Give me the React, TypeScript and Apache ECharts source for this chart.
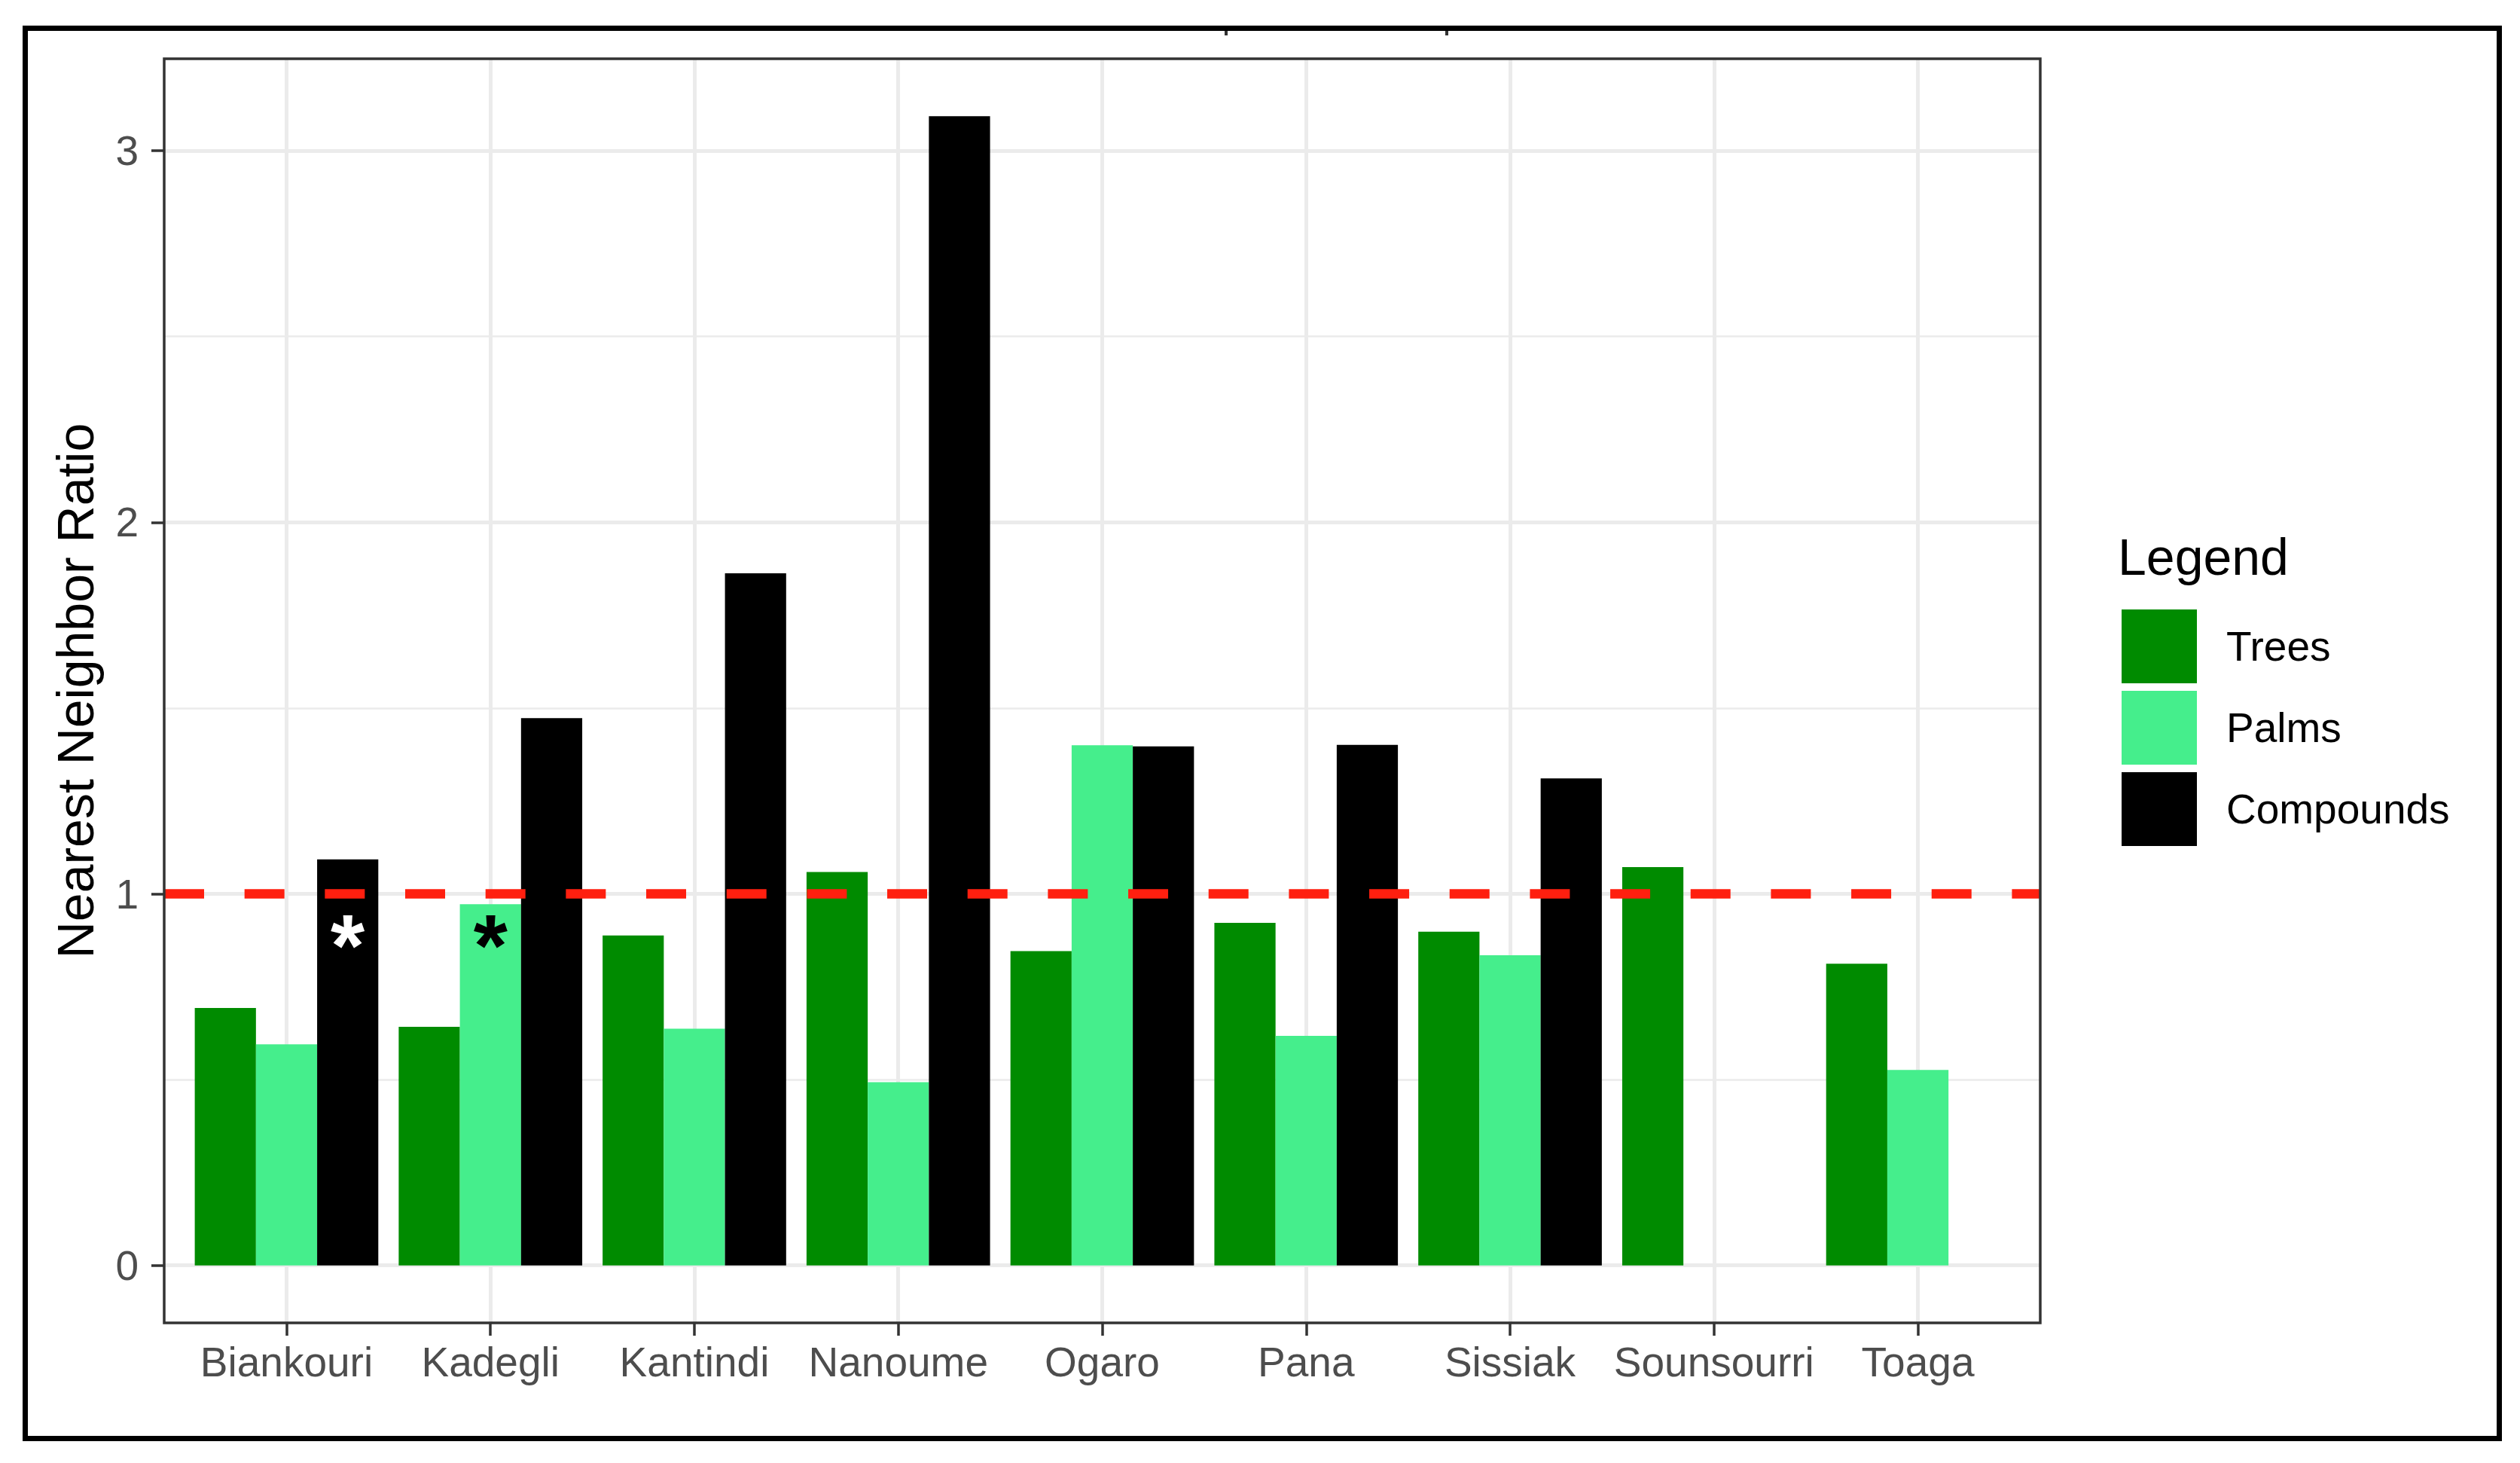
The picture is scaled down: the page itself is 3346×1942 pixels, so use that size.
import React, { useEffect, useRef } from 'react';
import * as echarts from 'echarts';

// ---- data ----
const categories = ['Biankouri', 'Kadegli', 'Kantindi', 'Nanoume', 'Ogaro', 'Pana', 'Sissiak', 'Sounsourri', 'Toaga'];
const seriesNames = ['Trees', 'Palms', 'Compounds'];
const trees = [0.693, 0.642, 0.888, 1.059, 0.846, 0.922, 0.898, 1.072, 0.812];
const palms = [0.595, 0.972, 0.637, 0.493, 1.4, 0.618, 0.835, null, 0.526];
const compounds = [1.093, 1.473, 1.863, 3.093, 1.397, 1.401, 1.311, null, null];
const yTickMax = 3;
const referenceValue = 1;
const starCategories = ['Biankouri', 'Kadegli'];
const starSeries = ['Compounds', 'Palms'];
const starValues = [0.9, 0.9];
const starColors = ['#FFFFFF', '#000000'];
const seriesColors = ['#008B00', '#45EE8C', '#000000'];
const yTitle = 'Nearest Neighbor Ratio';
const legendTitle = 'Legend';

const FONT = '"Liberation Sans", Arial, sans-serif';

export default function App() {
  const ref = useRef<HTMLDivElement>(null);

  useEffect(() => {
    if (!ref.current) return;
    const chart = echarts.init(ref.current, undefined, { renderer: 'svg' });

    // panel layout
    const L = 218, T = 78, R = 2709, B = 1756;
    const PW = R - L, PH = B - T;
    const nCat = categories.length;
    const unitX = PW / (nCat - 1 + 1.2);

    const allVals = [...trees, ...palms, ...compounds].filter((v) => v != null) as number[];
    const dMax = Math.max(...allVals);
    const yMin = -0.05 * dMax;
    const yMax = dMax * 1.05;
    const unitY = PH / (yMax - yMin);

    const seriesData = [trees, palms, compounds];

    const option: any = {
      animation: false,
      backgroundColor: '#FFFFFF',
      textStyle: { fontFamily: FONT },
      grid: [
        { left: L, top: T, width: PW, height: PH },
        { left: L, top: T + (yMax - yTickMax) * unitY, width: PW, height: yTickMax * unitY },
        { left: L + 0.6 * unitX, top: T, width: (nCat - 1) * unitX, height: PH },
        { left: L + 0.1 * unitX, top: T, width: nCat * unitX, height: PH },
      ],
      xAxis: [
        { gridIndex: 0, type: 'value', min: 0, max: 1, show: false },
        { gridIndex: 1, type: 'value', min: 0, max: 1, show: false },
        {
          gridIndex: 2, type: 'value', min: 0, max: nCat - 1, interval: 1,
          axisLine: { show: false, onZero: false }, axisTick: { show: false }, axisLabel: { show: false },
          splitLine: { show: true, lineStyle: { color: '#EBEBEB', width: 5 } },
        },
        {
          gridIndex: 3, type: 'category', data: categories, position: 'bottom',
          axisLine: { show: false, onZero: false },
          axisTick: { show: true, alignWithLabel: true, length: 17, lineStyle: { color: '#333333', width: 3.5 } },
          axisLabel: { interval: 0, fontSize: 55, color: '#4D4D4D', margin: 24, fontFamily: FONT },
          splitLine: { show: false },
        },
      ],
      yAxis: [
        { gridIndex: 0, type: 'value', min: yMin, max: yMax, show: false },
        {
          gridIndex: 1, type: 'value', min: 0, max: yTickMax, interval: 1,
          axisLine: { show: false, onZero: false },
          axisTick: { show: true, length: 17, lineStyle: { color: '#333333', width: 3.5 } },
          axisLabel: { fontSize: 55, color: '#4D4D4D', margin: 34, fontFamily: FONT },
          splitLine: { show: true, lineStyle: { color: '#EBEBEB', width: 5 } },
          minorTick: { show: false, splitNumber: 2 },
          minorSplitLine: { show: true, lineStyle: { color: '#EBEBEB', width: 2.7 } },
        },
        { gridIndex: 2, type: 'value', show: false },
        { gridIndex: 3, type: 'value', min: yMin, max: yMax, show: false },
      ],
      legend: {
        data: seriesNames,
        orient: 'vertical',
        left: 2817,
        top: 809,
        itemWidth: 100,
        itemHeight: 98,
        itemGap: 10,
        padding: 0,
        icon: 'rect',
        selectedMode: false,
        textStyle: { fontSize: 55, color: '#000000', fontFamily: FONT, padding: [0, 0, 0, 34] },
      },
      series: [
        ...seriesNames.map((name, i) => ({
          type: 'bar',
          name,
          xAxisIndex: 3,
          yAxisIndex: 3,
          data: seriesData[i],
          barGap: '0%',
          barCategoryGap: '10%',
          itemStyle: { color: seriesColors[i] },
          z: 2,
          silent: true,
        })),
        {
          type: 'line',
          name: 'reference',
          xAxisIndex: 0,
          yAxisIndex: 0,
          data: [[0, referenceValue], [1, referenceValue]],
          symbol: 'none',
          lineStyle: { color: '#FF1F0F', width: 12.5, type: [53, 53.67], cap: 'butt' },
          z: 5,
          silent: true,
        },
        {
          type: 'custom',
          name: 'stars',
          xAxisIndex: 3,
          yAxisIndex: 3,
          z: 6,
          silent: true,
          data: starCategories.map((c, i) => [categories.indexOf(c), starValues[i], seriesNames.indexOf(starSeries[i])]),
          renderItem: (params: any, api: any) => {
            const p = api.coord([api.value(0), api.value(1)]);
            const band = api.size([1, 0])[0];
            const slotW = (band * 0.9) / seriesNames.length;
            const fs = 116;
            return {
              type: 'text',
              x: p[0] + (api.value(2) - 1) * slotW,
              y: p[1] + 0.17 * fs,
              style: {
                text: '*',
                fill: starColors[params.dataIndex],
                fontSize: fs,
                fontWeight: 'bold',
                fontFamily: FONT,
                align: 'center',
                verticalAlign: 'middle',
              },
            };
          },
        },
      ],
      graphic: [
        {
          type: 'rect', z: 100, silent: true,
          shape: { x: 33.5, y: 37.5, width: 3285, height: 1872 },
          style: { fill: 'none', stroke: '#000000', lineWidth: 7 },
        },
        {
          type: 'rect', z: 100, silent: true,
          shape: { x: L, y: T, width: PW, height: PH },
          style: { fill: 'none', stroke: '#333333', lineWidth: 3.5 },
        },
        {
          type: 'rect', z: 100, silent: true,
          shape: { x: 1626, y: 41, width: 4, height: 6 },
          style: { fill: '#333333' },
        },
        {
          type: 'rect', z: 100, silent: true,
          shape: { x: 1919, y: 41, width: 4, height: 6 },
          style: { fill: '#333333' },
        },
        {
          type: 'text', z: 100, silent: true,
          x: 100, y: (T + B) / 2, rotation: Math.PI / 2,
          style: { text: yTitle, fontSize: 68, fontFamily: FONT, fill: '#000000', align: 'center', verticalAlign: 'middle' },
        },
        {
          type: 'text', z: 100, silent: true,
          x: 2812, y: 739,
          style: { text: legendTitle, fontSize: 68, fontFamily: FONT, fill: '#000000', align: 'left', verticalAlign: 'middle' },
        },
      ],
    };

    chart.setOption(option);
    return () => chart.dispose();
  }, []);

  return (
    <div
      ref={ref}
      style={{ position: 'absolute', left: 0, top: 0, width: 3346, height: 1942, background: '#FFFFFF' }}
    />
  );
}
